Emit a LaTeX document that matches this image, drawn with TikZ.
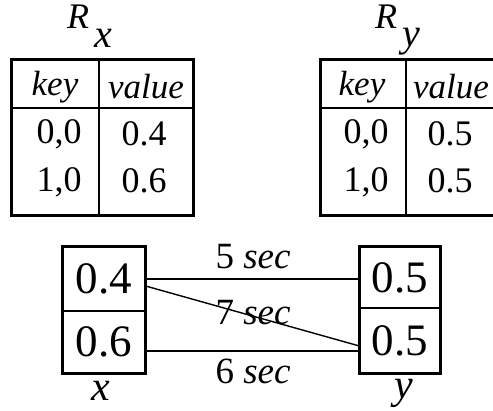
\documentclass[tikz,border=0pt]{standalone}
\usepackage{fontspec}
\setmainfont{Liberation Serif}
\usetikzlibrary{calc}
\begin{document}
\begin{tikzpicture}[x=1pt,y=-1pt,
  thickline/.style={line width=3pt},
  thinline/.style={line width=1.2pt},
  conn/.style={line width=1.4pt},
  celltxt/.style={inner sep=0pt,font=\fontsize{36}{38}\selectfont},
  itxt/.style={inner sep=0pt,font=\fontsize{35}{38}\selectfont\itshape},
  lbl/.style={inner sep=0pt,font=\fontsize{37}{40}\selectfont},
  cell/.style={draw,thinline,minimum width=82pt,inner sep=0pt,font=\fontsize{45}{48}\selectfont}
]
\useasboundingbox (0,0) rectangle (493,410);
% ---- left table R_x
\node[inner sep=0pt,font=\fontsize{36}{38}\selectfont\itshape] (Rx) at (78,17) {R};
\node[inner sep=0pt,font=\fontsize{40}{42}\selectfont\itshape] (Rxs) at (103,38) {x};
\draw[thinline] (11,108) -- (193,108);
\draw[thinline] (99,59) -- (99,215);
\draw[thickline] (11,59) rectangle (193,215);
\node[itxt] (kx) at (55,87) {key};
\node[itxt] (vx) at (146,87) {value};
\node[celltxt] (kx1) at (59,134) {0,0};
\node[celltxt] (vx1) at (144,134) {0.4};
\node[celltxt] (kx2) at (59,182) {1,0};
\node[celltxt] (vx2) at (144,181) {0.6};
% ---- right table R_y
\node[inner sep=0pt,font=\fontsize{36}{38}\selectfont\itshape] (Ry) at (386,17) {R};
\node[inner sep=0pt,font=\fontsize{40}{42}\selectfont\itshape] (Rys) at (411,42) {y};
\draw[thinline] (320,108) -- (500,108);
\draw[thinline] (406,59) -- (406,215);
\draw[thickline] (320,59) rectangle (500,215);
\node[itxt] (ky) at (362,87) {key};
\node[itxt] (vy) at (451,87) {value};
\node[celltxt] (ky1) at (366,134) {0,0};
\node[celltxt] (vy1) at (450,134) {0.5};
\node[celltxt] (ky2) at (366,182) {1,0};
\node[celltxt] (vy2) at (450,181) {0.5};
% ---- bottom boxes
\node[cell,minimum height=64pt] (xa) at (104,279) {0.4};
\node[cell,minimum height=62pt] (xb) at (104,342) {0.6};
\draw[thickline] (xa.north west) rectangle (xb.south east);
\node[cell,minimum height=61pt,minimum width=80pt] (ya) at (400,277.5) {0.5};
\node[cell,minimum height=65pt,minimum width=80pt] (yb) at (400,340.5) {0.5};
\draw[thickline] (ya.north west) rectangle (yb.south east);
\node[inner sep=0pt,font=\fontsize{42}{44}\selectfont\itshape] (xl) at (101,391) {x};
\node[inner sep=0pt,font=\fontsize{42}{44}\selectfont\itshape] (yl) at (404,393) {y};
% ---- connectors
\draw[conn] (xa.east) -- (xa.east -| ya.west);
\draw[conn] ($(xb.east)+(0,9)$) -- ($(xb.east -| yb.west)+(0,9)$);
\draw[conn] ($(xa.east)+(0,7)$) -- ($(yb.west)+(0,5.5)$);
\node[lbl] (l5) at (253,257) {5 \textit{sec}};
\node[lbl] (l7) at (253,313) {7 \textit{sec}};
\node[lbl] (l6) at (253,371) {6 \textit{sec}};
\end{tikzpicture}
\end{document}
